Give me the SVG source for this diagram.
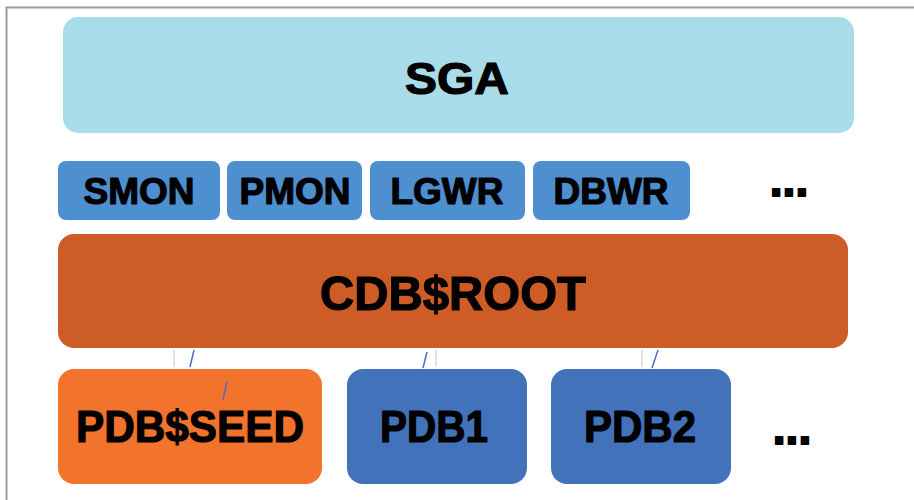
<svg xmlns="http://www.w3.org/2000/svg" width="914" height="500" viewBox="0 0 914 500">
  <style>
    .lbl { font-family: "Liberation Sans", Arial, sans-serif; font-weight: bold; fill: #000; stroke: #000; stroke-width: 1.2; stroke-linejoin: round; text-anchor: middle; }
    .dots { stroke-width: 2; }
    .proc rect { fill: #4e8fd0; }
    .pdb rect { fill: #4272ba; }
    .gray { stroke: #d0d0d0; stroke-width: 1.2; }
    .blue { stroke: #4a6fc8; stroke-width: 1.5; }
  </style>
  <rect width="914" height="500" fill="#ffffff"/>
  <!-- frame -->
  <path d="M6.5 500 V7.5 H914" fill="none" stroke="#9a9a9a" stroke-width="2"/>

  <g id="sga">
    <rect x="63" y="17" width="791" height="116" rx="15" fill="#a8dce8"/>
    <text class="lbl" x="457" y="94" font-size="45" textLength="104" lengthAdjust="spacingAndGlyphs">SGA</text>
  </g>

  <g id="smon" class="proc">
    <rect x="58" y="161" width="162" height="59" rx="8"/>
    <text class="lbl" x="139" y="204" font-size="37">SMON</text>
  </g>
  <g id="pmon" class="proc">
    <rect x="227" y="161" width="135" height="59" rx="8"/>
    <text class="lbl" x="295" y="204" font-size="37">PMON</text>
  </g>
  <g id="lgwr" class="proc">
    <rect x="370" y="161" width="155" height="59" rx="8"/>
    <text class="lbl" x="447" y="204" font-size="37">LGWR</text>
  </g>
  <g id="dbwr" class="proc">
    <rect x="533" y="161" width="157" height="59" rx="8"/>
    <text class="lbl" x="611" y="204" font-size="37">DBWR</text>
  </g>
  <g id="more-proc">
    <text class="lbl dots" x="789" y="196" font-size="46">...</text>
  </g>

  <g id="cdb-root">
    <rect x="58" y="234" width="790" height="114" rx="16" fill="#cd5c27"/>
    <text class="lbl" x="453" y="310" font-size="49" textLength="266" lengthAdjust="spacingAndGlyphs">CDB$ROOT</text>
  </g>

  <g id="pdb-seed">
    <rect x="58" y="369" width="264" height="115" rx="16" fill="#f2732c"/>
    <text class="lbl" x="190" y="442" font-size="45" textLength="228" lengthAdjust="spacingAndGlyphs">PDB$SEED</text>
  </g>
  <g id="pdb1" class="pdb">
    <rect x="347" y="369" width="180" height="115" rx="16"/>
    <text class="lbl" x="434" y="442" font-size="45" textLength="108" lengthAdjust="spacingAndGlyphs">PDB1</text>
  </g>
  <g id="pdb2" class="pdb">
    <rect x="551" y="369" width="180" height="115" rx="16"/>
    <text class="lbl" x="640" y="442" font-size="45" textLength="112" lengthAdjust="spacingAndGlyphs">PDB2</text>
  </g>
  <g id="more-pdb">
    <text class="lbl dots" x="792" y="444" font-size="46">...</text>
  </g>

  <g id="connectors">
    <line class="gray" x1="174" y1="350" x2="174" y2="367"/>
    <line class="gray" x1="436" y1="350" x2="436" y2="367"/>
    <line class="gray" x1="642" y1="350" x2="642" y2="367"/>
    <line class="blue" x1="194" y1="350" x2="190" y2="367"/>
    <line class="blue" x1="227" y1="382" x2="223" y2="400"/>
    <line class="blue" x1="427" y1="352" x2="423" y2="368"/>
    <line class="blue" x1="658" y1="350" x2="652" y2="368"/>
  </g>
</svg>
